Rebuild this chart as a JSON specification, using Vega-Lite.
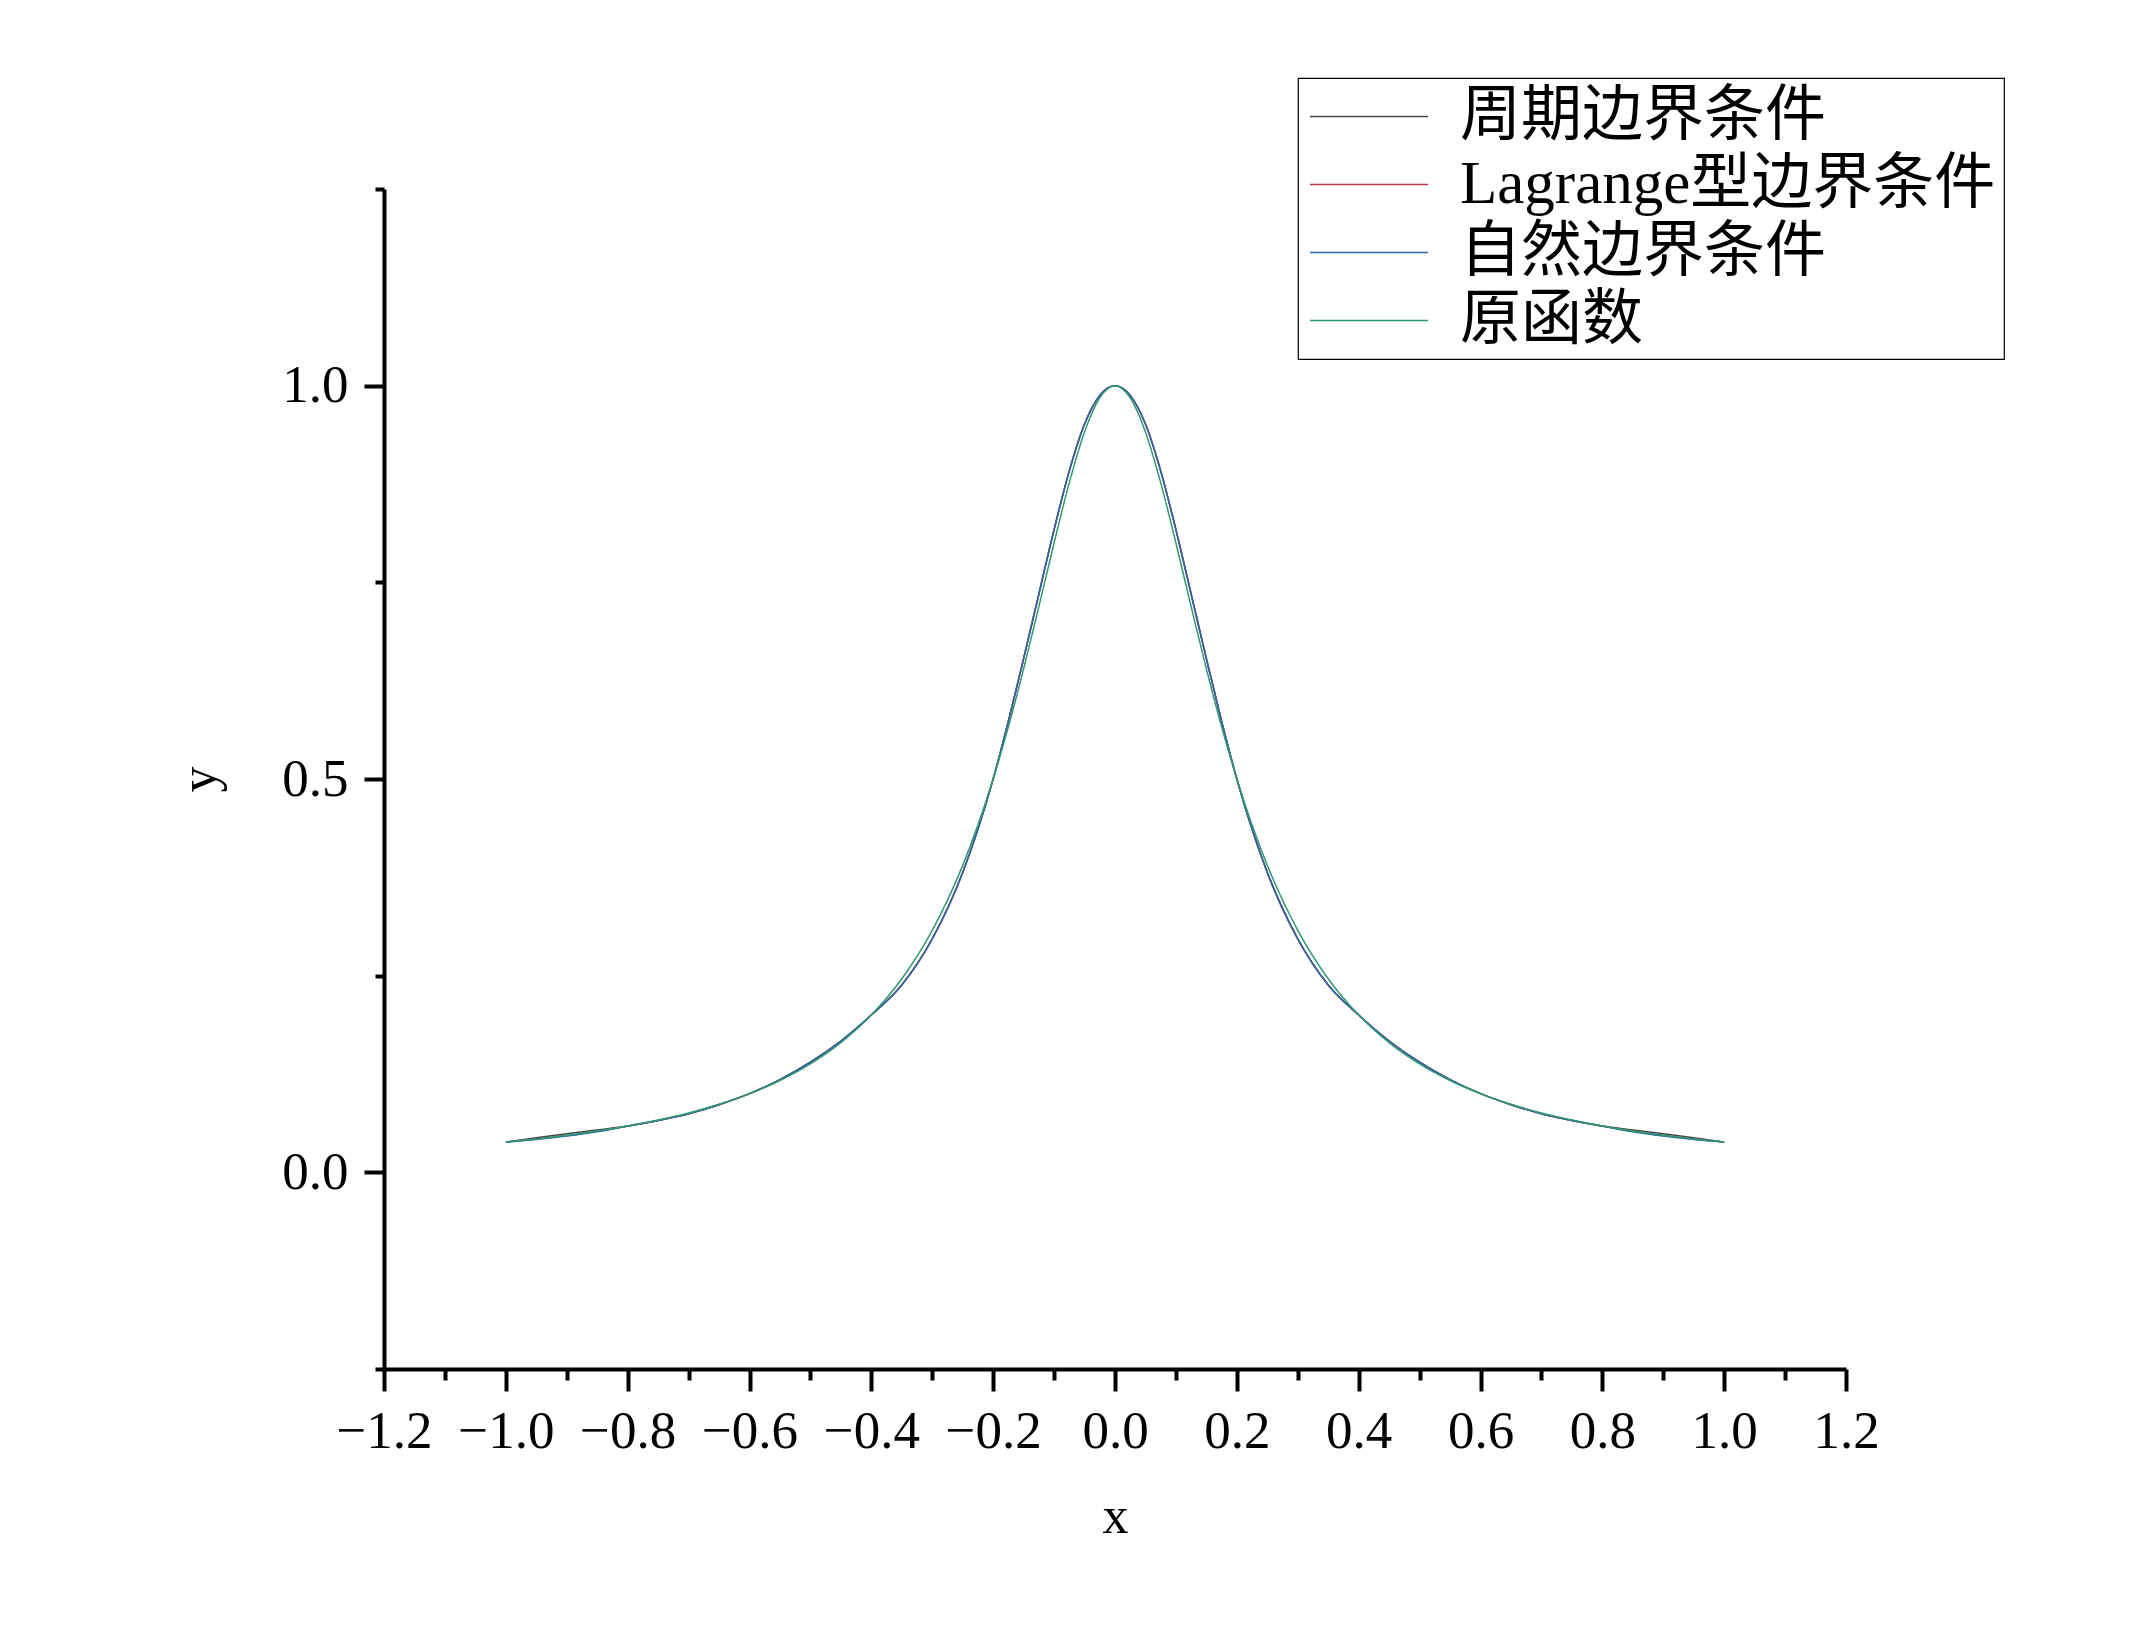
{
  "$schema": "https://vega.github.io/schema/vega-lite/v6.json",
  "autosize": {"type": "none"},
  "padding": {"left": 384, "top": 189, "right": 299, "bottom": 273},
  "width": 1462,
  "height": 1180,
  "background": "white",
  "config": {
    "view": {"stroke": null},
    "axis": {
      "domainColor": "black", "domainWidth": 4, "tickColor": "black", "tickWidth": 4,
      "labelFont": "Liberation Serif", "labelFontSize": 53, "labelColor": "black",
      "titleFont": "Liberation Serif", "titleFontSize": 52, "titleFontWeight": "normal", "titleColor": "black",
      "grid": false, "labelOverlap": false, "labelFlush": false, "labelBound": false
    },
    "legend": {
      "strokeColor": "black", "strokeWidth": 1.2, "padding": 8, "fillColor": "white",
      "labelFont": "Liberation Serif, Noto Sans CJK SC", "labelFontSize": 61, "labelColor": "black",
      "symbolType": "M-1.35,0H4.65", "symbolSize": 1547, "symbolStrokeWidth": 1.5,
      "labelOffset": 93, "rowPadding": 6, "labelLimit": 1200
    }
  },
  "data": {"values": [
    {"x": -1, "p": 0.03846, "l": 0.03846, "n": 0.03846, "f": 0.03846},
    {"x": -0.95, "p": 0.04394, "l": 0.04234, "n": 0.04174, "f": 0.04244},
    {"x": -0.9, "p": 0.04906, "l": 0.04686, "n": 0.04606, "f": 0.04706},
    {"x": -0.85, "p": 0.05396, "l": 0.05226, "n": 0.05156, "f": 0.05246},
    {"x": -0.8, "p": 0.05882, "l": 0.05882, "n": 0.05882, "f": 0.05882},
    {"x": -0.75, "p": 0.06589, "l": 0.06589, "n": 0.06589, "f": 0.06639},
    {"x": -0.7, "p": 0.07447, "l": 0.07447, "n": 0.07447, "f": 0.07547},
    {"x": -0.65, "p": 0.08599, "l": 0.08599, "n": 0.08599, "f": 0.08649},
    {"x": -0.6, "p": 0.1, "l": 0.1, "n": 0.1, "f": 0.1},
    {"x": -0.55, "p": 0.11779, "l": 0.11779, "n": 0.11779, "f": 0.11679},
    {"x": -0.5, "p": 0.13993, "l": 0.13993, "n": 0.13993, "f": 0.13793},
    {"x": -0.45, "p": 0.16695, "l": 0.16695, "n": 0.16695, "f": 0.16495},
    {"x": -0.4, "p": 0.2, "l": 0.2, "n": 0.2, "f": 0.2},
    {"x": -0.35, "p": 0.23815, "l": 0.23815, "n": 0.23815, "f": 0.24615},
    {"x": -0.3, "p": 0.29669, "l": 0.29669, "n": 0.29669, "f": 0.30769},
    {"x": -0.25, "p": 0.38124, "l": 0.38124, "n": 0.38124, "f": 0.39024},
    {"x": -0.2, "p": 0.5, "l": 0.5, "n": 0.5, "f": 0.5},
    {"x": -0.175, "p": 0.57337, "l": 0.57337, "n": 0.57337, "f": 0.56637},
    {"x": -0.15, "p": 0.653, "l": 0.653, "n": 0.653, "f": 0.64},
    {"x": -0.125, "p": 0.7351, "l": 0.7351, "n": 0.7351, "f": 0.7191},
    {"x": -0.1, "p": 0.817, "l": 0.817, "n": 0.817, "f": 0.8},
    {"x": -0.075, "p": 0.89171, "l": 0.89171, "n": 0.89171, "f": 0.87671},
    {"x": -0.05, "p": 0.95118, "l": 0.95118, "n": 0.95118, "f": 0.94118},
    {"x": -0.025, "p": 0.98762, "l": 0.98762, "n": 0.98762, "f": 0.98462},
    {"x": 0, "p": 1, "l": 1, "n": 1, "f": 1},
    {"x": 0.025, "p": 0.98762, "l": 0.98762, "n": 0.98762, "f": 0.98462},
    {"x": 0.05, "p": 0.95118, "l": 0.95118, "n": 0.95118, "f": 0.94118},
    {"x": 0.075, "p": 0.89171, "l": 0.89171, "n": 0.89171, "f": 0.87671},
    {"x": 0.1, "p": 0.817, "l": 0.817, "n": 0.817, "f": 0.8},
    {"x": 0.125, "p": 0.7351, "l": 0.7351, "n": 0.7351, "f": 0.7191},
    {"x": 0.15, "p": 0.653, "l": 0.653, "n": 0.653, "f": 0.64},
    {"x": 0.175, "p": 0.57337, "l": 0.57337, "n": 0.57337, "f": 0.56637},
    {"x": 0.2, "p": 0.5, "l": 0.5, "n": 0.5, "f": 0.5},
    {"x": 0.25, "p": 0.38124, "l": 0.38124, "n": 0.38124, "f": 0.39024},
    {"x": 0.3, "p": 0.29669, "l": 0.29669, "n": 0.29669, "f": 0.30769},
    {"x": 0.35, "p": 0.23815, "l": 0.23815, "n": 0.23815, "f": 0.24615},
    {"x": 0.4, "p": 0.2, "l": 0.2, "n": 0.2, "f": 0.2},
    {"x": 0.45, "p": 0.16695, "l": 0.16695, "n": 0.16695, "f": 0.16495},
    {"x": 0.5, "p": 0.13993, "l": 0.13993, "n": 0.13993, "f": 0.13793},
    {"x": 0.55, "p": 0.11779, "l": 0.11779, "n": 0.11779, "f": 0.11679},
    {"x": 0.6, "p": 0.1, "l": 0.1, "n": 0.1, "f": 0.1},
    {"x": 0.65, "p": 0.08599, "l": 0.08599, "n": 0.08599, "f": 0.08649},
    {"x": 0.7, "p": 0.07447, "l": 0.07447, "n": 0.07447, "f": 0.07547},
    {"x": 0.75, "p": 0.06589, "l": 0.06589, "n": 0.06589, "f": 0.06639},
    {"x": 0.8, "p": 0.05882, "l": 0.05882, "n": 0.05882, "f": 0.05882},
    {"x": 0.85, "p": 0.05396, "l": 0.05226, "n": 0.05156, "f": 0.05246},
    {"x": 0.9, "p": 0.04906, "l": 0.04686, "n": 0.04606, "f": 0.04706},
    {"x": 0.95, "p": 0.04394, "l": 0.04234, "n": 0.04174, "f": 0.04244},
    {"x": 1, "p": 0.03846, "l": 0.03846, "n": 0.03846, "f": 0.03846}
  ]},
  "transform": [{"fold": ["p", "l", "n", "f"], "as": ["s", "y"]}],
  "mark": {"type": "line", "strokeWidth": 1.5, "interpolate": "monotone", "clip": false},
  "encoding": {
    "x": {
      "field": "x", "type": "quantitative",
      "scale": {"domain": [-1.2, 1.2], "nice": false, "zero": false},
      "axis": {
        "title": "x", "titlePadding": 33,
        "values": [-1.2, -1.1, -1.0, -0.9, -0.8, -0.7, -0.6, -0.5, -0.4, -0.3, -0.2, -0.1, 0, 0.1, 0.2, 0.3, 0.4, 0.5, 0.6, 0.7, 0.8, 0.9, 1.0, 1.1, 1.2],
        "tickSize": {"condition": {"test": "abs(datum.value*5 - round(datum.value*5)) < 0.01", "value": 22}, "value": 11},
        "labelExpr": "abs(datum.value*5 - round(datum.value*5)) < 0.01 ? format(datum.value, '.1f') : ''",
        "labelPadding": 14
      }
    },
    "y": {
      "field": "y", "type": "quantitative",
      "scale": {"domain": [-0.25, 1.25], "nice": false, "zero": false},
      "axis": {
        "title": "y", "titlePadding": 55,
        "values": [-0.25, 0, 0.25, 0.5, 0.75, 1.0, 1.25],
        "tickSize": {"condition": {"test": "abs(datum.value*2 - round(datum.value*2)) < 0.01", "value": 20}, "value": 9},
        "labelExpr": "abs(datum.value*2 - round(datum.value*2)) < 0.01 ? format(datum.value, '.1f') : ''",
        "labelPadding": 16
      }
    },
    "color": {
      "field": "s", "type": "nominal",
      "scale": {"domain": ["p", "l", "n", "f"], "range": ["#454545", "#c0344e", "#2a66ad", "#2e9a70"]},
      "legend": {
        "title": null, "orient": "none", "legendX": 914, "legendY": -111,
        "labelExpr": "{'p': '周期边界条件', 'l': 'Lagrange型边界条件', 'n': '自然边界条件', 'f': '原函数'}[datum.value]"
      }
    }
  }
}
